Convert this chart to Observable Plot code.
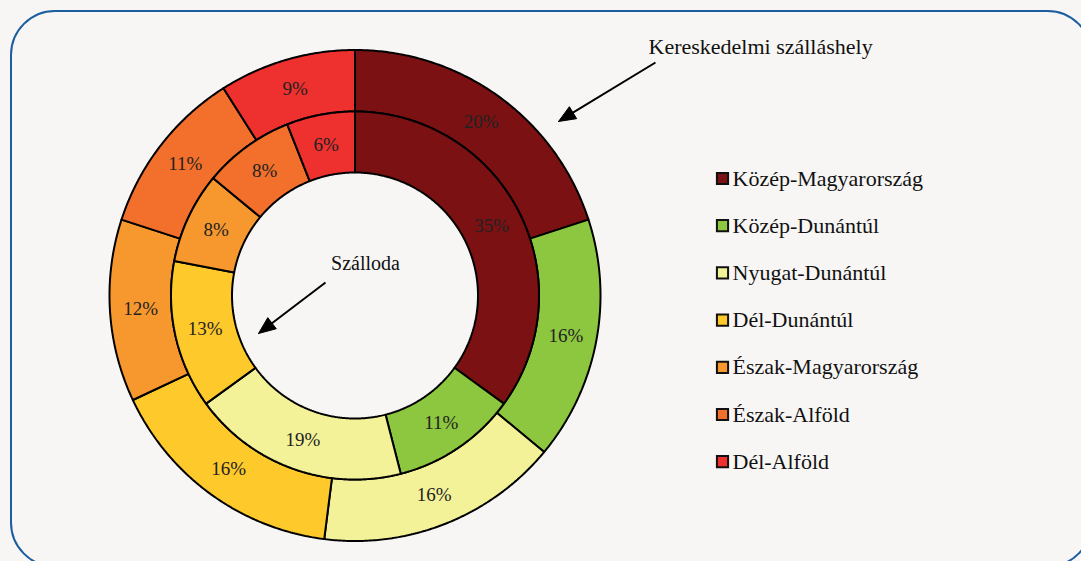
<!DOCTYPE html>
<html>
<head>
<meta charset="utf-8">
<script src="https://cdn.jsdelivr.net/npm/d3@7"></script>
<script src="https://cdn.jsdelivr.net/npm/@observablehq/plot@0.6"></script>
<style>
  html, body { margin: 0; padding: 0; background: #f7f6f4; }
  #chart svg { display: block; }
</style>
</head>
<body>
<div id="chart"></div>
<script>
// ---- data ----
const regions = ["Közép-Magyarország", "Közép-Dunántúl", "Nyugat-Dunántúl", "Dél-Dunántúl", "Észak-Magyarország", "Észak-Alföld", "Dél-Alföld"];
const colors = ["#7b1113", "#8dc63f", "#f3f299", "#fec92a", "#f7982e", "#f26f2c", "#ee302e"];
const outerValues = [20, 16, 16, 16, 12, 11, 9];   // Kereskedelmi szálláshely
const innerValues = [35, 11, 19, 13, 8, 8, 6];      // Szálloda
const outerName = "Kereskedelmi szálláshely";
const innerName = "Szálloda";

const W = 1081, H = 561;
const cx = 354.5, cy = 295;
const rOuter = 245.5, rMid = 184, rInner = 123;
const serif = "Liberation Serif";

function ringSlices(values, r0, r1, ring) {
  const total = d3.sum(values);
  let acc = 0;
  return values.map((v, i) => {
    const a0 = acc / total * 2 * Math.PI;
    acc += v;
    const a1 = acc / total * 2 * Math.PI;
    const n = Math.max(4, Math.ceil((a1 - a0) / (Math.PI / 360)));
    const pts = [];
    for (let k = 0; k <= n; k++) { const a = a0 + (a1 - a0) * k / n; pts.push({x: r1 * Math.sin(a), y: r1 * Math.cos(a)}); }
    for (let k = n; k >= 0; k--) { const a = a0 + (a1 - a0) * k / n; pts.push({x: r0 * Math.sin(a), y: r0 * Math.cos(a)}); }
    pts.push(pts[0]);
    const am = (a0 + a1) / 2, rm = (r0 + r1) / 2;
    return {ring, region: regions[i], value: v, color: colors[i], pts,
            lx: rm * Math.sin(am), ly: rm * Math.cos(am), label: v + "%"};
  });
}
const outer = ringSlices(outerValues, rMid, rOuter, outerName);
const inner = ringSlices(innerValues, rInner, rMid, innerName);
const all = [...outer, ...inner];

const legendTop = 295 - 178, legendStep = 47.2;
const legend = regions.map((r, i) => ({region: r, color: colors[i], x: 722 - cx, tx: 732 - cx, y: legendTop - i * legendStep}));

const arrows = [
  {x1: 655 - cx, y1: cy - 62, x2: 558 - cx, y2: cy - 121},
  {x1: 325 - cx, y1: cy - 282, x2: 258 - cx, y2: cy - 333}
];
function head(a, len = 17, half = 7) {
  const dx = a.x2 - a.x1, dy = a.y2 - a.y1, L = Math.hypot(dx, dy);
  const ux = dx / L, uy = dy / L, px = -uy, py = ux;
  const bx = a.x2 - ux * len, by = a.y2 - uy * len;
  return [{x: a.x2, y: a.y2}, {x: bx + px * half, y: by + py * half}, {x: bx - px * half, y: by - py * half}, {x: a.x2, y: a.y2}];
}
const shafts = arrows.map(a => {
  const dx = a.x2 - a.x1, dy = a.y2 - a.y1, L = Math.hypot(dx, dy);
  return {x1: a.x1, y1: a.y1, x2: a.x2 - dx / L * 14, y2: a.y2 - dy / L * 14};
});
const noteOuter = [{text: outerName, x: 648 - cx, y: cy - 46}];
const noteInner = [{text: innerName, x: 365 - cx, y: cy - 263}];

const chart = Plot.plot({
  width: W, height: H,
  margin: 0,
  style: {background: "#f7f6f4", overflow: "hidden"},
  x: {domain: [-cx, W - cx], axis: null},
  y: {domain: [cy - H, cy], axis: null},
  marks: [
    Plot.frame({stroke: "#1b5e9f", strokeWidth: 2, rx: 44, insetLeft: 10.5, insetTop: 10.5, insetRight: -10, insetBottom: -5}),
    ...all.map(s => Plot.line(s.pts, {x: "x", y: "y", fill: s.color, stroke: "#000", strokeWidth: 2, strokeLinejoin: "miter", curve: "linear"})),
    Plot.link(shafts, {x1: "x1", y1: "y1", x2: "x2", y2: "y2", stroke: "#000", strokeWidth: 2}),
    ...arrows.map(a => Plot.line(head(a), {x: "x", y: "y", fill: "#000", stroke: "#000", strokeWidth: 1})),
    Plot.dot(legend, {x: "x", y: "y", symbol: "square", r: 6.3, fill: "color", stroke: "#111", strokeWidth: 2}),
    Plot.text(noteOuter, {x: "x", y: "y", text: "text", textAnchor: "start", fontSize: 22, fill: "#111", fontFamily: serif}),
    Plot.text(noteInner, {x: "x", y: "y", text: "text", textAnchor: "middle", fontSize: 20, fill: "#111", fontFamily: serif}),
    Plot.text(legend, {x: "tx", y: "y", text: "region", textAnchor: "start", fontSize: 22, fill: "#111", fontFamily: serif}),
    Plot.text(all, {x: "lx", y: "ly", text: "label", fontSize: 19, fill: "#222", fontFamily: serif})
  ]
});
chart.querySelectorAll("text").forEach(t => {
  t.style.setProperty("font-family", "'Liberation Serif', serif", "important");
});
document.getElementById("chart").appendChild(chart);
</script>
</body>
</html>
